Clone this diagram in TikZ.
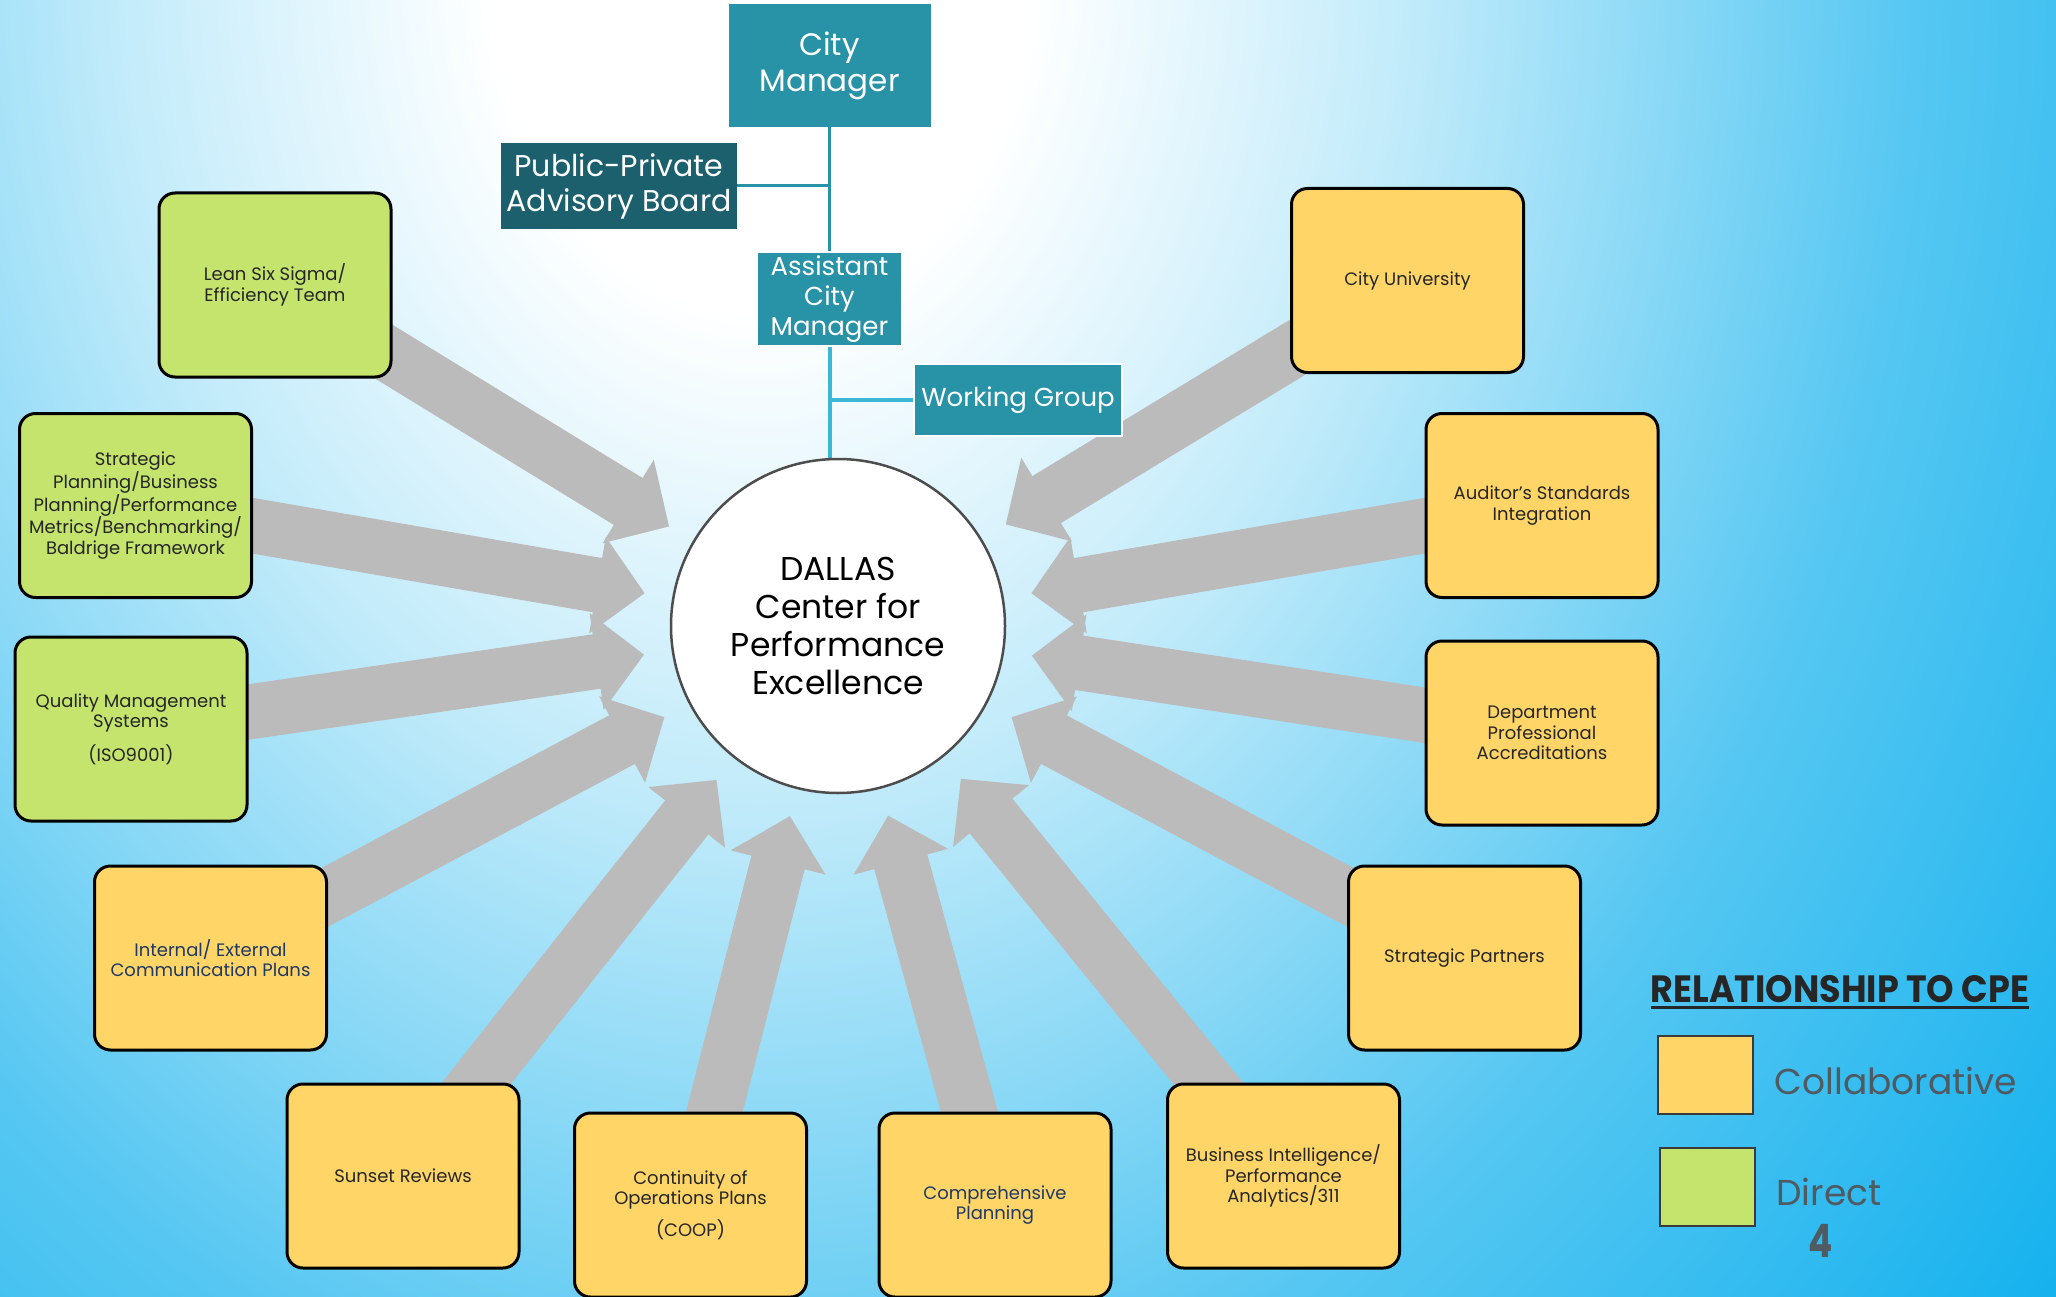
\documentclass[tikz,border=0pt]{standalone}
\usepackage{fontspec}
\setmainfont{Poppins}
\newfontfamily\keyfont[FakeStretch=0.92]{Poppins}
\newfontfamily\numfont[FakeStretch=0.78]{Poppins}
\usetikzlibrary{arrows.meta,positioning}

\definecolor{mgrteal}{HTML}{2892A6}
\definecolor{boardteal}{HTML}{1C5F6D}
\definecolor{stemcyan}{HTML}{3BB8D6}
\definecolor{collabfill}{HTML}{FFD567}
\definecolor{directfill}{HTML}{C4E46E}
\definecolor{flowgray}{HTML}{BBBBBB}
\definecolor{boxink}{HTML}{262626}
\definecolor{navyink}{HTML}{1F3864}
\definecolor{keyink}{HTML}{4F5A61}
\definecolor{keyedge}{HTML}{3A3A3A}
\definecolor{ringgray}{HTML}{4D4D4D}
\definecolor{skyA}{HTML}{C2EBFA}
\definecolor{skyB}{HTML}{56C7F2}
\definecolor{skyC}{HTML}{10B0EE}

\pgfdeclareradialshading{skyglow}{\pgfpointorigin}{color(0bp)=(white); color(4bp)=(white); color(9.5bp)=(skyA); color(17bp)=(skyB); color(25bp)=(skyC); color(50bp)=(skyC)}
\pgfdeclarelayer{sky}
\pgfdeclarelayer{flows}
\pgfsetlayers{sky,flows,main}

\tikzset{
  partbox/.style={rounded corners=16pt, draw=black, line width=3pt, minimum width=232pt, minimum height=184pt, align=center, text=boxink, font=\fontsize{18}{20.5}\selectfont},
  collabbox/.style={partbox, fill=collabfill},
  directbox/.style={partbox, fill=directfill},
  orgbox/.style={fill=mgrteal, text=white, align=center, inner sep=0pt},
  flow/.style={draw=flowgray, line width=55pt, -{Triangle[width=95pt,length=48pt]}},
  orgline/.style={draw=mgrteal, line width=3pt},
  stemline/.style={draw=stemcyan, line width=4pt},
  keybox/.style={draw=keyedge, line width=2.5pt, minimum width=95pt, minimum height=78pt, inner sep=0pt},
  keylabel/.style={inner sep=0pt, text=keyink, font=\fontsize{36}{40}\selectfont}
}

\begin{document}
\begin{tikzpicture}[x=1pt,y=-1pt]
\useasboundingbox (0,0) rectangle (2056,1297);
\begin{pgfonlayer}{sky}
  \begin{scope}
    \clip (0,0) rectangle (2056,1297);
    \shade[shading=skyglow] (760,-40) ellipse [x radius=1700pt, y radius=2200pt];
  \end{scope}
\end{pgfonlayer}

\node[orgbox, minimum width=202pt, minimum height=123pt, font=\fontsize{31}{36}\selectfont] (mgr) at (829.5,65.5) {City\\Manager};
\node[orgbox, fill=boardteal, minimum width=236pt, minimum height=86pt, font=\fontsize{30}{35}\selectfont] (board) at (619,186) {Public-Private\\Advisory Board};
\node[orgbox, draw=white, line width=2.5pt, minimum width=145pt, minimum height=94pt, font=\fontsize{26}{30}\selectfont] (asst) at (829.5,299) {Assistant\\City\\Manager};
\node[orgbox, draw=white, line width=2.5pt, minimum width=208pt, minimum height=72pt, font=\fontsize{26}{30}\selectfont] (wgroup) at (1018,400) {Working Group};
\node[circle, draw=ringgray, fill=white, line width=2.5pt, minimum size=334pt, align=center, font=\fontsize{33}{38}\selectfont] (dallas) at (838,626) {DALLAS\\Center for\\Performance\\Excellence};

\node[directbox] (lean) at (275,285) {Lean Six Sigma/\\Efficiency Team};
\node[directbox] (plan) at (135.5,505.5) {Strategic\\Planning/Business\\Planning/Performance\\Metrics/Benchmarking/\\Baldrige Framework};
\node[directbox] (quality) at (131,729) {Quality Management\\Systems\\[11pt](ISO9001)};
\node[collabbox, text=navyink] (comms) at (210.5,958) {Internal/ External\\Communication Plans};
\node[collabbox] (sunset) at (403,1176) {Sunset Reviews};
\node[collabbox] (coop) at (690.5,1205) {Continuity of\\Operations Plans\\[9pt](COOP)};
\node[collabbox, text=navyink] (comp) at (995,1205) {Comprehensive\\Planning};
\node[collabbox] (bi) at (1283.5,1176) {Business Intelligence/\\Performance\\Analytics/311};
\node[collabbox] (partners) at (1464.5,958) {Strategic Partners};
\node[collabbox] (accred) at (1542,733) {Department\\Professional\\Accreditations};
\node[collabbox] (audit) at (1542,505.5) {Auditor’s Standards\\Integration};
\node[collabbox] (univ) at (1407.5,280.5) {City University};

\begin{pgfonlayer}{flows}
  \foreach \part/\ang in {lean/149.5, plan/170.4, quality/188.4, comms/207.7, sunset/231.7, coop/255.8, comp/284.8, bi/308.8, partners/332.3, accred/351.3, audit/9.6, univ/31.2}{
    \path (dallas.center) ++(\ang:196pt) coordinate (tip);
    \draw[flow] (\part.center) -- (tip);
  }
  \draw[orgline] (mgr) -- (asst);
  \draw[orgline] (board.east) -- (board.east -| mgr.south);
  \draw[stemline] (asst.south) -- (asst.south |- dallas.north);
  \draw[stemline] (wgroup.west) -- (wgroup.west -| asst.south);
\end{pgfonlayer}

\node[inner sep=0pt, text=boxink, font=\keyfont\bfseries\fontsize{38}{40}\selectfont] (keytitle) at (1840,989) {RELATIONSHIP TO CPE};
\draw[draw=boxink, line width=3pt] ([yshift=-5pt]keytitle.base west) -- ([yshift=-5pt]keytitle.base east);
\node[keybox, fill=collabfill] (keycollab) at (1705.5,1075) {};
\node[keybox, fill=directfill] (keydirect) at (1707.5,1187) {};
\node[keylabel, right=20pt of keycollab, yshift=-6pt] (keycollabtext) {Collaborative};
\node[keylabel, right=20pt of keydirect, yshift=-5pt] (keydirecttext) {Direct};
\node[text=keyink, font=\numfont\bfseries\fontsize{46}{46}\selectfont] (pagenum) at (1821,1241) {4};
\end{tikzpicture}
\end{document}
